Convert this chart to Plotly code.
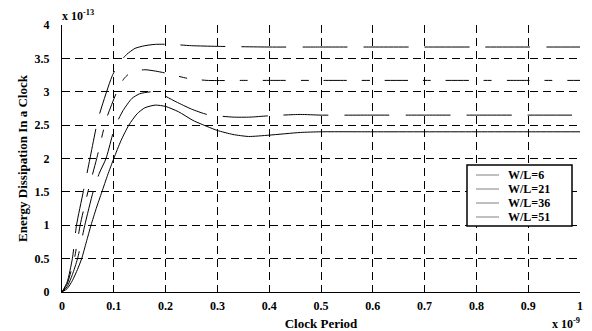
import plotly.graph_objects as go

# Clock period (units of 1e-9) and energy (units of 1e-13)
x_wl6 = [0, 0.01, 0.02, 0.03, 0.038, 0.047, 0.056, 0.066, 0.077, 0.088, 0.1, 0.114, 0.129,
         0.145, 0.16, 0.18, 0.2, 0.225, 0.253, 0.28, 0.3, 0.33, 0.36, 0.4, 0.46, 0.5, 0.6, 0.7, 0.8, 0.9, 1.0]
y_wl6 = [0, 0.05, 0.17, 0.34, 0.5, 0.75, 1.0, 1.25, 1.5, 1.75, 2.0, 2.27, 2.5,
         2.67, 2.76, 2.8, 2.78, 2.7, 2.57, 2.48, 2.42, 2.36, 2.33, 2.35, 2.39, 2.4, 2.4, 2.4, 2.4, 2.4, 2.4]

x_wl21 = [0, 0.01, 0.02, 0.03, 0.044, 0.06, 0.072, 0.085, 0.102, 0.118, 0.135, 0.15, 0.175,
          0.19, 0.22, 0.25, 0.28, 0.33, 0.363, 0.4, 0.46, 0.5, 0.6, 0.7, 0.8, 0.9, 1.0]
y_wl21 = [0, 0.08, 0.26, 0.5, 1.0, 1.5, 1.78, 2.0, 2.47, 2.72, 2.9, 2.97, 3.0,
          2.97, 2.85, 2.74, 2.66, 2.62, 2.62, 2.64, 2.66, 2.65, 2.65, 2.65, 2.65, 2.65, 2.65]

x_wl36 = [0, 0.01, 0.017, 0.024, 0.035, 0.05, 0.067, 0.086, 0.106, 0.12, 0.135, 0.16,
          0.18, 0.2, 0.215, 0.243, 0.28, 0.35, 0.4, 0.5, 0.6, 0.7, 0.8, 0.9, 1.0]
y_wl36 = [0, 0.12, 0.3, 0.5, 1.0, 1.5, 2.0, 2.6, 3.0, 3.2, 3.3, 3.33,
          3.31, 3.28, 3.25, 3.2, 3.17, 3.17, 3.17, 3.17, 3.17, 3.17, 3.17, 3.17, 3.17]

x_wl51 = [0, 0.01, 0.02, 0.028, 0.041, 0.054, 0.07, 0.096, 0.109, 0.125, 0.141, 0.16,
          0.18, 0.21, 0.25, 0.3, 0.4, 0.5, 0.6, 0.7, 0.8, 0.9, 1.0]
y_wl51 = [0, 0.15, 0.5, 1.0, 1.5, 2.0, 2.6, 3.22, 3.42, 3.56, 3.65, 3.69,
          3.71, 3.71, 3.69, 3.68, 3.67, 3.67, 3.67, 3.67, 3.67, 3.67, 3.67]

legend_labels = ["W/L=6", "W/L=21", "W/L=36", "W/L=51"]
x_ticks = [0, 0.1, 0.2, 0.3, 0.4, 0.5, 0.6, 0.7, 0.8, 0.9, 1]
y_ticks = [0, 0.5, 1, 1.5, 2, 2.5, 3, 3.5, 4]

FONT = "Liberation Serif"
series = [
    (x_wl6, y_wl6, "solid"),
    (x_wl21, y_wl21, "45px,16px"),
    (x_wl36, y_wl36, "23px,15px,8px,15px"),
    (x_wl51, y_wl51, "45px,16px"),
]

fig = go.Figure()
for (xs, ys, dash), lab in zip(series, legend_labels):
    fig.add_trace(go.Scatter(x=xs, y=ys, mode="lines", name=lab, showlegend=False,
                             line=dict(color="black", width=1, dash=dash,
                                       shape="spline", smoothing=0.6)))

tickfont = dict(family=FONT, size=12, color="black", weight="bold")
axis_common = dict(showgrid=True, gridcolor="black", gridwidth=1, griddash="8px,5px",
                   showline=True, linecolor="black", linewidth=1, ticks="inside",
                   ticklen=4, tickcolor="black", zeroline=False, tickfont=tickfont,
                   automargin=False)

fig.update_xaxes(range=[0, 1], tickvals=x_ticks, ticktext=[f"{v:g}" for v in x_ticks],
                 ticklabelstandoff=3,
                 title=dict(text="Clock Period",
                            font=dict(family=FONT, size=13, color="black", weight="bold"),
                            standoff=6),
                 **axis_common)
fig.update_yaxes(range=[0, 4], tickvals=y_ticks, ticktext=[f"{v:g}" for v in y_ticks],
                 ticklabelstandoff=9,
                 title=dict(text="Energy Dissipation In a Clock",
                            font=dict(family=FONT, size=13, color="black", weight="bold"),
                            standoff=4),
                 **axis_common)

fig.add_annotation(text="x 10<sup>-13</sup>", xref="paper", yref="paper", x=0, y=1,
                   xanchor="left", yanchor="bottom", showarrow=False, xshift=-2,
                   font=dict(family=FONT, size=12, color="black", weight="bold"))
fig.add_annotation(text="x 10<sup>-9</sup>", xref="paper", yref="paper", x=1, y=0,
                   xanchor="right", yanchor="top", showarrow=False, yshift=-22, xshift=2,
                   font=dict(family=FONT, size=12, color="black", weight="bold"))

# Manual legend (paper coordinates of the plot area: x 62..580 px, y 25..292 px)
def px_x(p):
    return (p - 62) / 518.0


def px_y(p):
    return (292 - p) / 267.0


fig.add_shape(type="rect", xref="paper", yref="paper",
              x0=px_x(467), x1=px_x(572), y0=px_y(226), y1=px_y(165),
              line=dict(color="black", width=1.5), fillcolor="white", layer="above")
row_y = [175, 189, 203, 217]
for lab, ry in zip(legend_labels, row_y):
    fig.add_shape(type="line", xref="paper", yref="paper",
                  x0=px_x(476), x1=px_x(499), y0=px_y(ry), y1=px_y(ry),
                  line=dict(color="#808080", width=1), layer="above")
    fig.add_annotation(text=lab, xref="paper", yref="paper", x=px_x(507), y=px_y(ry),
                       xanchor="left", yanchor="middle", showarrow=False, borderpad=0,
                       font=dict(family=FONT, size=12, color="black", weight="bold"))

fig.update_layout(
    width=592, height=331,
    margin=dict(l=62, r=12, t=25, b=39, autoexpand=False),
    plot_bgcolor="white", paper_bgcolor="white",
    showlegend=False,
)

fig.write_html("out.html")
